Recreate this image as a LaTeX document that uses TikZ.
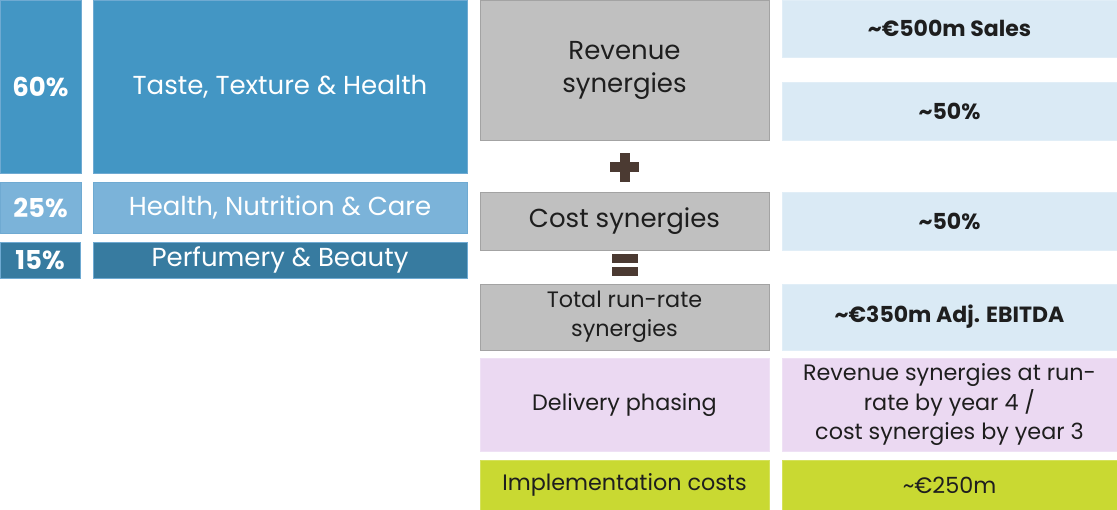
\documentclass[tikz,border=0pt]{standalone}
\usepackage{fontspec}
\setmainfont{Poppins}
\definecolor{bluemid}{HTML}{4396C4}
\definecolor{bluelight}{HTML}{7BB3D9}
\definecolor{bluedark}{HTML}{377BA0}
\definecolor{bluestroke}{HTML}{6FAAD2}
\definecolor{graybox}{HTML}{C0C0C0}
\definecolor{graystroke}{HTML}{A3A3A3}
\definecolor{paleblue}{HTML}{DAEAF5}
\definecolor{lilac}{HTML}{EBD9F2}
\definecolor{lime}{HTML}{C9D932}
\definecolor{opcol}{HTML}{4B3A32}
\definecolor{txt}{HTML}{1E1E1E}
\tikzset{
  cell/.style={rectangle, inner sep=2pt, outer sep=0pt, align=center, line width=0.8pt},
  seg/.style={cell, fill=#1, draw=bluestroke, text=white},
  graycell/.style={cell, fill=graybox, draw=graystroke, text=txt},
  valcell/.style={cell, fill=#1, draw=#1!80!white, text=txt},
  pct/.style={font=\fontsize{26}{30}\selectfont\bfseries},
  seglab/.style={font=\fontsize{26}{30}\selectfont},
  biglab/.style={font=\fontsize{26}{33}\selectfont},
  smalllab/.style={font=\fontsize{22.3}{29.5}\selectfont},
  vallab/.style={font=\fontsize{22}{29}\selectfont\bfseries},
  op/.style={fill=opcol, draw=none}
}
\begin{document}
\begin{tikzpicture}[x=1pt,y=-1pt]
\useasboundingbox (0,0) rectangle (1117,510);
% left segments
\node[seg=bluemid, pct, minimum width=81pt, minimum height=173pt] (p60) at (40.5,86.5) {60\%};
\node[seg=bluemid, seglab, minimum width=374pt, minimum height=173pt] (tth) at (280,86.5) {Taste, Texture \& Health};
\node[seg=bluelight, pct, minimum width=81pt, minimum height=51pt] (p25) at (40.5,207.5) {25\%};
\node[seg=bluelight, seglab, minimum width=374pt, minimum height=51pt] (hnc) at (280,207.5) {Health, Nutrition \& Care};
\node[seg=bluedark, pct, minimum width=80pt, minimum height=36pt] (p15) at (40,260) {15\%};
\node[seg=bluedark, seglab, minimum width=374pt, minimum height=36pt] (pb) at (280,260) {Perfumery \& Beauty};
% middle column
\node[graycell, biglab, minimum width=289pt, minimum height=140pt] (rev) at (624.5,70) {Revenue\\synergies};
\node[graycell, biglab, minimum width=289pt, minimum height=58pt] (cost) at (624.5,221) {Cost synergies};
\node[graycell, smalllab, minimum width=289pt, minimum height=66pt] (tot) at (624.5,317) {Total run-rate\\synergies};
\node[valcell=lilac, smalllab, minimum width=289pt, minimum height=93pt] (del) at (624.5,405) {Delivery phasing};
\node[valcell=lime, smalllab, minimum width=289pt, minimum height=50pt] (impl) at (624.5,485) {Implementation costs};
% operators
\fill[op] (610,162) rectangle (639,172);
\fill[op] (620,153) rectangle (629.5,182);
\fill[op] (612,254) rectangle (638,263.5);
\fill[op] (612,267) rectangle (638,276);
% right column
\node[valcell=paleblue, vallab, minimum width=335pt, minimum height=57pt] (r1) at (949.5,28.5) {\textasciitilde€500m Sales};
\node[valcell=paleblue, vallab, minimum width=335pt, minimum height=58pt] (r2) at (949.5,111) {\textasciitilde50\%};
\node[valcell=paleblue, vallab, minimum width=335pt, minimum height=58pt] (r3) at (949.5,221) {\textasciitilde50\%};
\node[valcell=paleblue, vallab, minimum width=335pt, minimum height=66pt] (r4) at (949.5,317) {\textasciitilde€350m Adj. EBITDA};
\node[valcell=lilac, smalllab, minimum width=335pt, minimum height=93pt] (r5) at (949.5,405) {Revenue synergies at run-\\rate by year 4 /\\cost synergies by year 3};
\node[valcell=lime, smalllab, minimum width=335pt, minimum height=50pt] (r6) at (949.5,485) {\textasciitilde€250m};
\end{tikzpicture}
\end{document}
